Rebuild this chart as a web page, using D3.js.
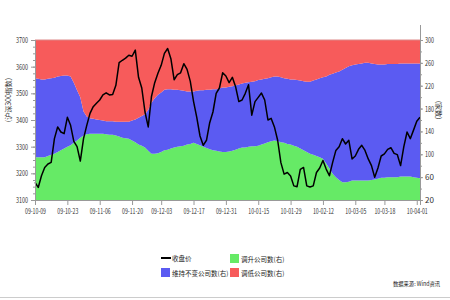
<!DOCTYPE html>
<html><head><meta charset="utf-8">
<script src="https://cdn.jsdelivr.net/npm/d3@7"></script>
<style>body{margin:0;background:#fff}svg{display:block}text{font-family:"Noto Sans CJK SC","DejaVu Sans",sans-serif}</style>
</head><body>
<script>
const closePrice=[3166,3147,3191,3222,3235,3241,3330,3374,3355,3349,3410,3380,3320,3300,3246,3330,3380,3425,3450,3463,
3475,3494,3502,3494,3496,3530,3615,3624,3632,3643,3639,3662,3560,3520,3430,3374,3488,3540,3575,3605,
3650,3668,3630,3551,3570,3577,3611,3590,3545,3470,3410,3340,3305,3324,3390,3430,3500,3520,3577,3565,
3540,3560,3525,3469,3475,3500,3532,3418,3469,3485,3501,3475,3400,3406,3374,3324,3240,3197,3203,3190,
3153,3150,3215,3222,3153,3149,3153,3203,3220,3248,3216,3191,3241,3286,3300,3330,3310,3324,3254,3265,
3290,3305,3286,3254,3229,3185,3220,3265,3273,3290,3296,3275,3270,3229,3300,3355,3330,3362,3395,3410];
const upCount=[95,95,95,95,97,99,101,104,107,110,113,116,120,124,129,133,135,136,136,136,
136,136,135,134,134,133,131,129,128,127,124,121,117,115,112,106,101,101,102,104,
107,108,110,112,113,114,115,117,118,120,118,116,113,111,109,107,106,105,104,104,
105,106,108,110,112,112,113,114,114,115,117,119,121,123,124,123,121,120,118,117,
115,113,110,107,104,101,99,97,95,92,84,75,66,60,55,51,51,52,54,54,
54,54,54,54,55,56,57,59,59,60,60,60,60,61,61,61,61,60,59,58];
const flatCount=[138,137,136,136,135,134,133,132,130,128,125,120,105,88,71,42,31,27,26,25,
24,23,23,24,24,24,26,28,29,30,35,40,47,52,58,72,89,97,102,104,
106,106,104,101,100,98,96,93,92,90,93,96,99,102,104,107,108,110,113,113,
113,113,113,112,112,113,113,113,114,115,114,113,112,112,112,113,114,113,114,114,
116,117,119,121,123,126,130,134,138,143,152,164,175,183,190,197,200,202,202,203,
204,205,206,206,204,202,200,198,198,198,198,198,198,198,198,198,198,199,200,201];
const downCount=[67,68,69,69,68,67,66,64,63,62,62,64,75,88,100,125,134,137,138,139,
140,141,142,142,142,143,143,143,143,143,141,139,136,133,130,122,110,102,96,92,
87,86,86,87,87,88,89,90,90,90,89,88,88,87,87,86,86,85,83,83,
82,81,79,78,76,75,74,73,72,70,69,68,67,65,64,64,65,67,68,69,
69,70,71,72,73,73,71,69,67,65,64,61,59,57,55,52,49,46,44,43,
42,41,40,40,41,42,43,43,43,42,42,42,42,41,41,41,41,41,41,41];
const tickIndex=[0,10,20,30,39,49,59,69,79,89,99,108,118];
const tickLabels=["09-10-09","09-10-23","09-11-06","09-11-20","09-12-03","09-12-17","09-12-31","10-01-15","10-01-29","10-02-12","10-03-05","10-03-18","10-04-01"];
const leftTicks=[3100,3200,3300,3400,3500,3600,3700];
const rightTicks=[20,60,100,140,180,220,260,300];
const seriesNames=["调升公司数(右)","维持不变公司数(右)","调低公司数(右)"];
const lineName="收盘价";
const colors=["#66ea66","#5b5bf2","#f75b5b"];

const W=450,H=300;
const svg=d3.select("body").append("svg").attr("width",W).attr("height",H);
const x=d3.scaleLinear().domain([0,closePrice.length-1]).range([35,420]);
const yL=d3.scaleLinear().domain([3100,3700]).range([200,40]);
const yR=d3.scaleLinear().domain([20,300]).range([200,40]).clamp(true);

const rows=closePrice.map((c,i)=>({i,up:upCount[i],flat:flatCount[i],down:downCount[i]}));
const stack=d3.stack().keys(["up","flat","down"])(rows);
const area=d3.area().x(d=>x(d.data.i)).y0(d=>yR(d[0])).y1(d=>yR(d[1]));
svg.append("g").selectAll("path").data(stack).join("path")
  .attr("d",area).attr("fill",(d,k)=>colors[k]);

svg.append("line").attr("x1",35).attr("x2",420).attr("y1",40).attr("y2",40).attr("stroke","#d88").attr("stroke-width",1);

const line=d3.line().x((d,i)=>x(i)).y(d=>yL(d));
svg.append("path").datum(closePrice).attr("d",line).attr("fill","none").attr("stroke","#000").attr("stroke-width",1.5).attr("stroke-linejoin","round");

const axC="#999",txC="#333";
const fmt=d3.format("d");
const gl=svg.append("g").attr("transform","translate(35,0)");
gl.call(d3.axisLeft(yL).tickValues(d3.range(3100,3701,25)).tickSize(2).tickFormat(""));
const gl2=svg.append("g").attr("transform","translate(35,0)");
gl2.call(d3.axisLeft(yL).tickValues(leftTicks).tickSize(4).tickPadding(3).tickFormat(fmt));
[gl,gl2].forEach(g=>{g.select(".domain").attr("stroke",axC);g.selectAll(".tick line").attr("stroke",axC);});
gl2.selectAll(".tick text").attr("font-size",8).attr("fill",txC).attr("textLength",12).attr("lengthAdjust","spacingAndGlyphs");

const gr=svg.append("g").attr("transform","translate(420,0)");
gr.call(d3.axisRight(yR).tickValues(d3.range(20,301,20)).tickSize(2).tickFormat(""));
const gr2=svg.append("g").attr("transform","translate(420,0)");
gr2.call(d3.axisRight(yR).tickValues(rightTicks).tickSize(3).tickPadding(2).tickFormat(fmt));
[gr,gr2].forEach(g=>{g.select(".domain").attr("stroke",axC);g.selectAll(".tick line").attr("stroke",axC);});
gr2.selectAll(".tick text").attr("font-size",8).attr("fill",txC).attr("textLength",9).attr("lengthAdjust","spacingAndGlyphs");
svg.append("line").attr("x1",420.5).attr("x2",420.5).attr("y1",25).attr("y2",40).attr("stroke",axC);

const gb=svg.append("g").attr("transform","translate(0,200)");
gb.call(d3.axisBottom(x).tickValues(tickIndex).tickSize(5).tickPadding(4).tickFormat((d,k)=>tickLabels[k]));
gb.select(".domain").attr("stroke",axC);
gb.selectAll(".tick line").attr("stroke",axC);
gb.selectAll(".tick text").attr("font-size",7.5).attr("fill",txC).attr("textLength",21).attr("lengthAdjust","spacingAndGlyphs");

svg.append("text").attr("transform","translate(11,100) rotate(-90)").attr("text-anchor","middle")
  .attr("font-size",7).attr("fill",txC).text("(沪深300指数)");
svg.append("text").attr("transform","translate(436,110) rotate(90)").attr("text-anchor","middle")
  .attr("font-size",7).attr("fill",txC).text("(家数)");

const lg=svg.append("g").attr("font-size",6.5).attr("fill","#222");
lg.append("line").attr("x1",161).attr("x2",171).attr("y1",258).attr("y2",258).attr("stroke","#000").attr("stroke-width",2);
lg.append("text").attr("x",172).attr("y",260.5).text(lineName);
const items=[{c:colors[0],t:seriesNames[0],x:230,y:254},{c:colors[1],t:seriesNames[1],x:161,y:268},{c:colors[2],t:seriesNames[2],x:230,y:268}];
items.forEach(it=>{
  lg.append("rect").attr("x",it.x).attr("y",it.y).attr("width",9).attr("height",9).attr("fill",it.c);
  lg.append("text").attr("x",it.x+11).attr("y",it.y+7.5).text(it.t);
});

svg.append("text").attr("x",393).attr("y",286).attr("font-size",6).attr("fill","#222")
  .attr("textLength",47).attr("lengthAdjust","spacingAndGlyphs").text("数据来源: Wind资讯");
svg.append("line").attr("x1",0).attr("x2",450).attr("y1",297.5).attr("y2",297.5).attr("stroke","#ccc");
</script>
</body></html>
